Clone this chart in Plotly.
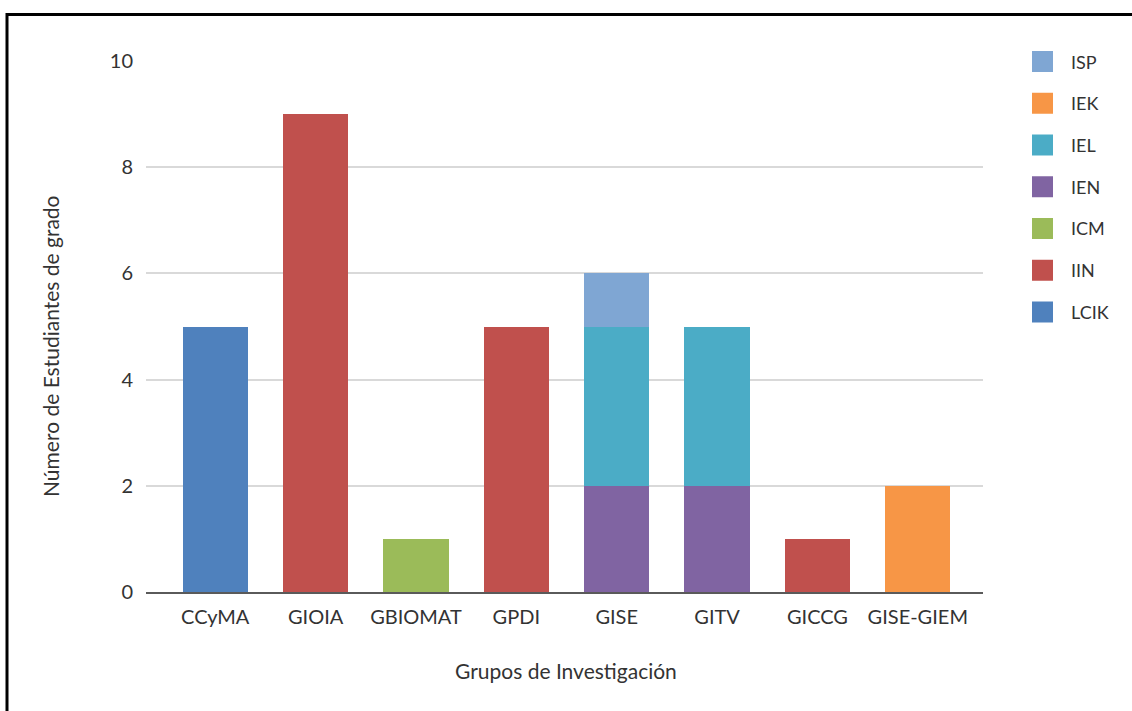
import plotly.graph_objects as go

# Research groups (x axis) and students per programme (stacked series)
groups = ["CCyMA", "GIOIA", "GBIOMAT", "GPDI", "GISE", "GITV", "GICCG", "GISE-GIEM"]

series_names = ["LCIK", "IIN", "ICM", "IEN", "IEL", "IEK", "ISP"]
lcik = [5, 0, 0, 0, 0, 0, 0, 0]
iin = [0, 9, 0, 5, 0, 0, 1, 0]
icm = [0, 0, 1, 0, 0, 0, 0, 0]
ien = [0, 0, 0, 0, 2, 2, 0, 0]
iel = [0, 0, 0, 0, 3, 3, 0, 0]
iek = [0, 0, 0, 0, 0, 0, 0, 2]
isp = [0, 0, 0, 0, 1, 0, 0, 0]
series_values = [lcik, iin, icm, ien, iel, iek, isp]

colors = ["#4F81BD", "#C0504D", "#9BBB59", "#8064A2", "#4BACC6", "#F79646", "#7FA6D3"]

y_ticks = [0, 2, 4, 6, 8, 10]

W, H = 1132, 711
ML, MR, MT, MB = 146, 149, 61, 119
PW, PH = W - ML - MR, H - MT - MB


def px(x):
    return (x - ML) / PW


def py(y):
    return (H - MB - y) / PH


FONT = "Lato"
TXT = "#333333"

fig = go.Figure()
for name, vals, col in zip(series_names, series_values, colors):
    fig.add_trace(go.Bar(
        x=groups,
        y=[v if v else None for v in vals],
        name=name,
        marker=dict(color=col, line=dict(width=0)),
        showlegend=False,
    ))

shapes = []
annotations = []

# Frame around the figure (left and top edges visible)
shapes.append(dict(type="rect", xref="paper", yref="paper",
                   x0=px(7), x1=px(1145), y0=py(725), y1=py(14.5),
                   line=dict(color="black", width=3), layer="above"))

# Legend: last series on top
for i, (name, col) in enumerate(zip(reversed(series_names), reversed(colors))):
    cy = 61.5 + i * 41.75
    shapes.append(dict(type="rect", xref="paper", yref="paper",
                       x0=px(1032), x1=px(1053), y0=py(cy + 10.5), y1=py(cy - 10.5),
                       fillcolor=col, line=dict(width=0)))
    annotations.append(dict(xref="paper", yref="paper", x=px(1069), y=py(cy),
                            xanchor="left", yanchor="middle", text=name, showarrow=False,
                            font=dict(family=FONT, size=18, color=TXT)))

# Axis titles
annotations.append(dict(xref="paper", yref="paper", x=px(566), y=py(670),
                        xanchor="center", yanchor="middle", text="Grupos de Investigación",
                        showarrow=False, font=dict(family=FONT, size=21, color=TXT)))
annotations.append(dict(xref="paper", yref="paper", x=px(50), y=py(346),
                        xanchor="center", yanchor="middle", text="Número de Estudiantes de grado",
                        textangle=-90, showarrow=False, font=dict(family=FONT, size=21, color=TXT)))

fig.update_layout(
    width=W, height=H,
    margin=dict(l=ML, r=MR, t=MT, b=MB, pad=0),
    barmode="stack",
    bargap=0.35,
    plot_bgcolor="white",
    paper_bgcolor="white",
    font=dict(family=FONT, size=20, color=TXT),
    shapes=shapes,
    annotations=annotations,
    xaxis=dict(
        range=[-0.69, 7.65],
        showgrid=False,
        showline=True, linecolor="#5a5a5a", linewidth=1.5,
        ticks="", ticklabelstandoff=6,
        tickfont=dict(family=FONT, size=20, color=TXT),
        fixedrange=True,
    ),
    yaxis=dict(
        range=[0, 10],
        tickvals=y_ticks,
        showgrid=True, gridcolor="#d9d9d9", gridwidth=1.5,
        zeroline=False, showline=False,
        ticks="", ticklabelstandoff=12,
        tickfont=dict(family=FONT, size=20, color=TXT),
        fixedrange=True,
    ),
)

fig.write_html("out.html")
